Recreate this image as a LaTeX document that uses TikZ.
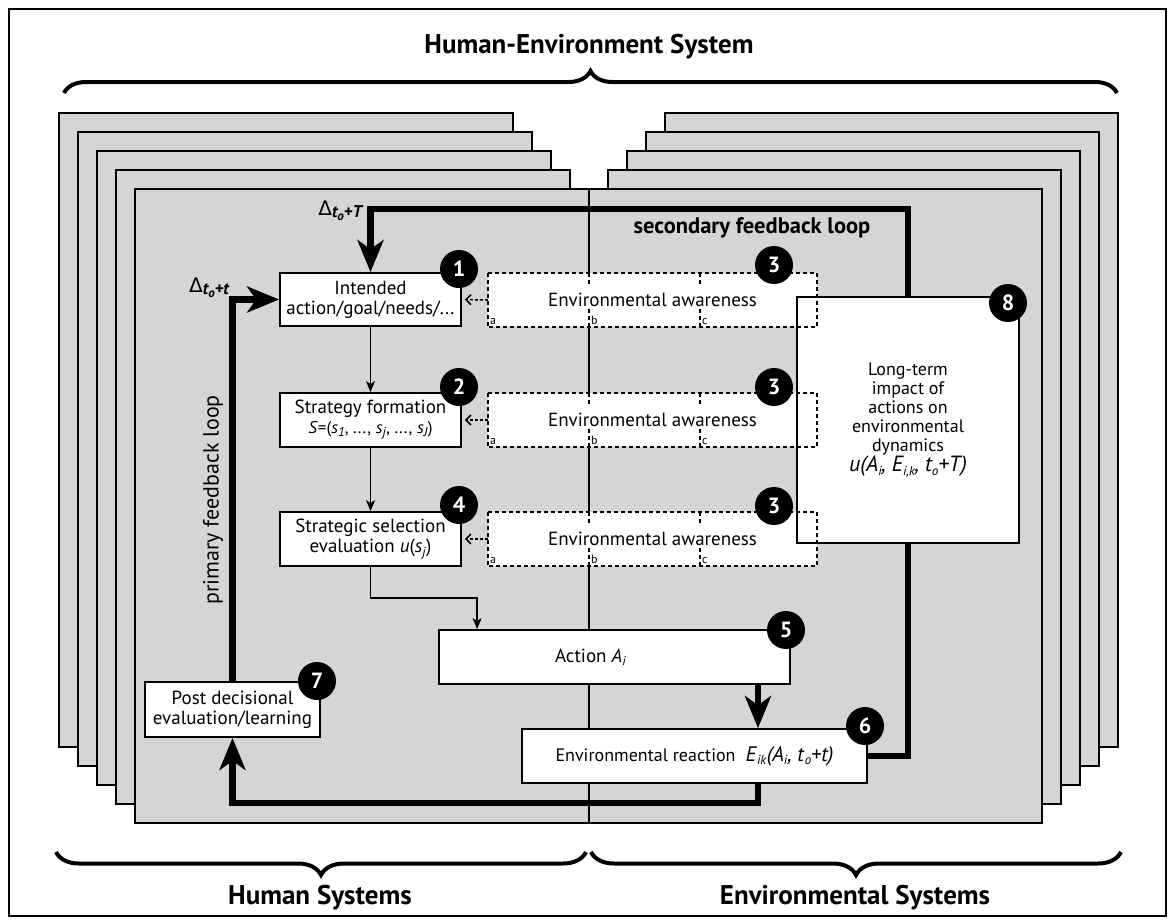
\documentclass[tikz,border=0pt]{standalone}
\usepackage{fontspec}
\setmainfont{PT Sans}
\newfontfamily\dejavu{DejaVu Sans}
\usetikzlibrary{arrows.meta,decorations.pathreplacing,calc}
\definecolor{pagegray}{RGB}{213,213,213}
\pgfdeclarelayer{bg}\pgfdeclarelayer{mid}\pgfsetlayers{bg,mid,main}
\newcommand{\mysub}[1]{\raisebox{-0.35ex}{\fontsize{13}{13}\selectfont #1}}
\begin{document}
\begin{tikzpicture}[x=1pt,y=-1pt,
  page/.style={draw=black, fill=pagegray, line width=2pt},
  box/.style={draw=black, fill=white, line width=1.8pt, inner sep=0pt, align=center, font=\fontsize{19}{20}\selectfont},
  envbox/.style={fill=white, inner sep=0pt, minimum width=329pt, minimum height=54pt, font=\fontsize{19}{20}\selectfont},
  dashline/.style={draw=black, line width=1.5pt, dash pattern=on 4pt off 3pt},
  abc/.style={anchor=south west, inner sep=1pt, font=\fontsize{12}{12}\selectfont},
  numcirc/.style={circle, fill=black, text=white, minimum size=38pt, inner sep=0pt, font=\fontsize{22}{22}\selectfont\bfseries},
  thinarrow/.style={line width=1.8pt, -{Stealth[length=11pt, width=9pt, inset=3pt]}},
  thickarrow/.style={line width=6.5pt, -{Stealth[length=32pt, width=26pt, inset=9pt]}},
  dasharrow/.style={line width=1.5pt, dash pattern=on 3pt off 2pt, shorten >=3pt, -{Straight Barb[length=5pt, width=10pt]}},
  bracestyle/.style={line width=4pt, decorate, decoration={brace, amplitude=22pt}},
  bracemirror/.style={line width=4pt, decorate, decoration={brace, amplitude=23pt, mirror}},
  biglabel/.style={font=\fontsize{27}{27}\selectfont\bfseries}
]
\useasboundingbox (0,0) rectangle (1174,922);
\draw[line width=1.5pt] (9,9) rectangle (1166,916);

% title and braces
\node[biglabel] (title) at (589,47) {Human-Environment System};
\draw[bracestyle] (64,93) -- (1117,93);
\draw[bracemirror] (56,852) -- (586,852);
\draw[bracemirror] (591,852) -- (1121,852);
\node[biglabel] (hs) at (320,898) {Human Systems};
\node[biglabel] (es) at (855,898) {Environmental Systems};

% stacked pages
\begin{pgfonlayer}{bg}
\foreach \k in {4,3,2,1}{
  \draw[page] ({135-19*\k},{189-19*\k}) rectangle ({589-19*\k},{823-19*\k});
  \draw[page] ({589+19*\k},{189-19*\k}) rectangle ({1042+19*\k},{823-19*\k});
}
\draw[page] (135,189) rectangle (1042,823);
\draw[line width=2pt] (589,189) -- (589,823);
\end{pgfonlayer}

% human side nodes
\node[box, minimum width=181pt, minimum height=53pt] (n1) at (370.5,299.5) {Intended\\action/goal/needs/...};
\node[box, minimum width=181pt, minimum height=54pt] (n2) at (370.5,420) {Strategy formation\\{\fontsize{17}{18}\selectfont\textit{S}=(\textit{s}\mysub{\textit{1}}, ..., \textit{s}\mysub{\textit{j}}, ..., \textit{s}\mysub{\textit{J}})}};
\node[box, minimum width=181pt, minimum height=54pt] (n4) at (370.5,539) {Strategic selection\\evaluation \textit{u}(\textit{s}\mysub{\textit{j}})};
\node[box, minimum width=175pt, minimum height=55pt] (n7) at (232.5,709.5) {Post decisional\\evaluation/learning};

% environmental awareness fills
\node[envbox] (e1) at (652.5,300) {Environmental awareness};
\node[envbox] (e2) at (652.5,420) {Environmental awareness};
\node[envbox] (e3) at (652.5,539) {Environmental awareness};

% long-term impact box
\node[box, minimum width=222pt, minimum height=246pt, font=\fontsize{18}{19}\selectfont] (n8) at (908,420) {Long-term\\impact of\\actions on\\environmental\\dynamics\\{\fontsize{22}{24}\selectfont\textit{u(A\mysub{i}, E\mysub{i,k}, t\mysub{o}+T)}}};

% environmental awareness outlines and ticks
\foreach \e in {e1,e2,e3}{
  \draw[dashline] (\e.north west) rectangle (\e.south east);
  \foreach \dx in {101,212}{
    \draw[dashline] ($(\e.north west)+(\dx,0)$) -- ++(0,12);
    \draw[dashline] ($(\e.south west)+(\dx,0)$) -- ++(0,-18);
  }
  \node[abc] at ($(\e.south west)+(1,-1)$) {a};
  \node[abc] at ($(\e.south west)+(102,-1)$) {b};
  \node[abc] at ($(\e.south west)+(213,-1)$) {c};
}

% action and reaction
\node[box, minimum width=351pt, minimum height=54pt] (n5) at (614.5,657) {Action \textit{A}\mysub{\textit{i}}\hspace*{48pt}};
\node[box, minimum width=345pt, minimum height=54pt] (n6) at (694.5,756) {{\fontsize{18}{18}\selectfont Environmental reaction}\hspace{10pt}{\fontsize{21}{21}\selectfont\textit{E}\mysub{\textit{ik}}\textit{(A}\mysub{\textit{i}}\textit{, t}\mysub{\textit{o}}\textit{+t)}}};

% numbered circles
\node[numcirc] (c1) at (459,269) {1};
\node[numcirc] (c2) at (459,387) {2};
\node[numcirc] (c4) at (459,505) {4};
\node[numcirc] (c3a) at (774,265) {3};
\node[numcirc] (c3b) at (774,387) {3};
\node[numcirc] (c3c) at (774,506) {3};
\node[numcirc] (c5) at (786,630) {5};
\node[numcirc] (c6) at (865,726) {6};
\node[numcirc] (c7) at (317,681) {7};
\node[numcirc] (c8) at (1008,303) {8};

% labels
\node[anchor=base east, inner sep=0pt] (d1) at (362,215) {{\fontsize{20}{20}\dejavu Δ}\raisebox{-0.5ex}{\fontsize{17}{17}\selectfont\bfseries\itshape t\raisebox{-0.3ex}{\fontsize{13}{13}\selectfont o}+T}};
\node[anchor=base east, inner sep=0pt] (d2) at (229,292) {{\fontsize{20}{20}\dejavu Δ}\raisebox{-0.5ex}{\fontsize{17}{17}\selectfont\bfseries\itshape t\raisebox{-0.3ex}{\fontsize{13}{13}\selectfont o}+t}};
\node[font=\fontsize{22.5}{22.5}\selectfont\bfseries] (sl) at (752,228) {secondary feedback loop};
\node[rotate=90, font=\fontsize{22}{22}\selectfont] (pl) at (213,500) {primary feedback loop};

% dashed arrows
\draw[dasharrow] (e1.west) -- (n1.east);
\draw[dasharrow] (e2.west) -- (n2.east);
\draw[dasharrow] (e3.west) -- (n4.east);

% thin arrows
\draw[thinarrow] (n1.south) -- (n2.north);
\draw[thinarrow] (n2.south) -- (n4.north);
\draw[thinarrow] (n4.south) -- ++(0,31) -| ($(n5.north west)+(39,0)$);

% thick feedback loops
\coordinate (ax) at (758,0);
\coordinate (pb) at (0,803);
\coordinate (sx) at (908,209);
\begin{pgfonlayer}{mid}
\draw[thickarrow] (n5.south -| ax) -- (n6.north -| ax);
\draw[thickarrow] (n6.south -| ax) -- (ax |- pb) -| (n7.south);
\draw[thickarrow] (n7.north) |- (n1.west);
\draw[thickarrow] (n6.east) -| (sx) -| (n1.north);
\end{pgfonlayer}
\end{tikzpicture}
\end{document}
